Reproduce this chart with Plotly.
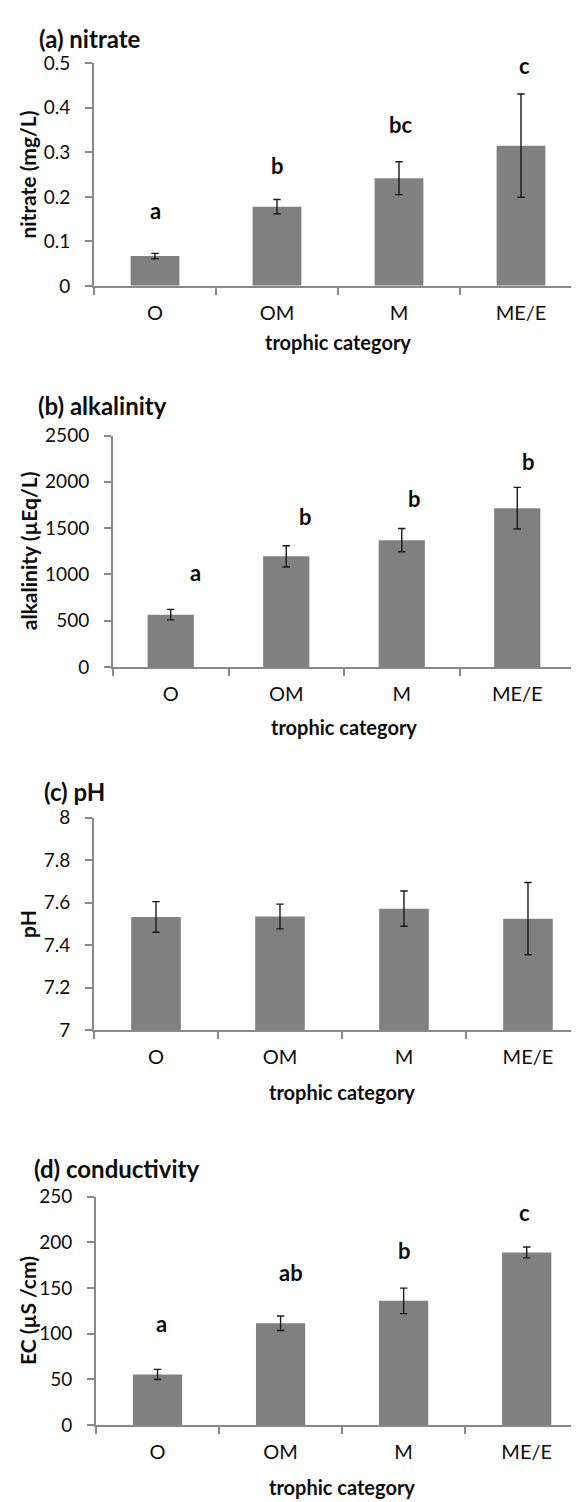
import plotly.graph_objects as go

W, H = 579, 1502

categories = ["O", "OM", "M", "ME/E"]

nitrate = [0.067, 0.178, 0.242, 0.315]
nitrate_err = [0.006, 0.016, 0.037, 0.116]
nitrate_letters = ["a", "b", "bc", "c"]

alkalinity = [565, 1195, 1370, 1715]
alkalinity_err = [57, 115, 125, 225]
alkalinity_letters = ["a", "b", "b", "b"]

ph = [7.533, 7.535, 7.572, 7.525]
ph_err = [0.072, 0.058, 0.083, 0.170]
ph_letters = ["", "", "", ""]

conductivity = [55.5, 111.5, 136.0, 189.0]
conductivity_err = [5.5, 8.0, 14.0, 6.0]
conductivity_letters = ["a", "ab", "b", "c"]

y_titles = ["nitrate (mg/L)", "alkalinity (µEq/L)", "pH", "EC (µS /cm)"]
panel_titles = ["(a) nitrate", "(b) alkalinity", "(c) pH", "(d) conductivity"]
x_title = "trophic category"

# layout: pixel box of each plot area, x range end, label placement
panels = [
    dict(vals=nitrate, err=nitrate_err, letters=nitrate_letters,
         letter_y=[0.170, 0.270, 0.362, 0.496], letter_dx=[0, 0, 1, 3],
         box=(86, 574, 44, 270), xmax=3.5, rng=[0, 0.5], dtick=0.1,
         title_xy=(29, 19), xtitle_y=327),
    dict(vals=alkalinity, err=alkalinity_err, letters=alkalinity_letters,
         letter_y=[1024, 1629, 1824, 2215], letter_dx=[25, 19, 13, 11],
         box=(105, 567, 422, 657), xmax=3.5, rng=[0, 2500], dtick=500,
         title_xy=(28, 392), xtitle_y=718),
    dict(vals=ph, err=ph_err, letters=ph_letters,
         letter_y=[0, 0, 0, 0], letter_dx=[0, 0, 0, 0],
         box=(86, 579, 810, 1026), xmax=3.476, rng=[7, 8], dtick=0.2,
         title_xy=(34, 784), xtitle_y=1089),
    dict(vals=conductivity, err=conductivity_err, letters=conductivity_letters,
         letter_y=[111, 166.7, 191, 233], letter_dx=[4, 10, 1, -2],
         box=(88, 579, 1195, 1427), xmax=3.49, rng=[0, 250], dtick=50,
         title_xy=(24, 1166), xtitle_y=1490),
]

FONT = "Lato"
AX = "#898989"
BAR = "#808080"
TXT = "#0d0d0d"

fig = go.Figure()
annotations = []

for i, p in enumerate(panels, start=1):
    xs = "" if i == 1 else str(i)
    x0, x1, y0, y1 = p["box"]
    fig.add_trace(go.Bar(
        x=categories, y=p["vals"], width=0.4,
        marker=dict(color=BAR, line=dict(width=0)),
        error_y=dict(type="data", array=p["err"], visible=True,
                     color="#1a1a1a", thickness=1.4, width=3.7),
        xaxis="x" + xs, yaxis="y" + xs, showlegend=False,
    ))
    fig.layout["xaxis" + xs] = dict(
        domain=[x0 / W, x1 / W], anchor="y" + xs, type="category",
        range=[-0.5, p["xmax"]],
        showline=True, linecolor=AX, linewidth=2,
        ticks="outside", tickson="boundaries", ticklen=7, tickwidth=2, tickcolor=AX,
        showgrid=False, zeroline=False,
        tickfont=dict(family=FONT, size=20, color=TXT),
        ticklabelstandoff=8,
        fixedrange=True,
    )
    fig.layout["yaxis" + xs] = dict(
        domain=[1 - y1 / H, 1 - y0 / H], anchor="x" + xs,
        range=p["rng"], dtick=p["dtick"], tick0=p["rng"][0],
        showline=True, linecolor=AX, linewidth=2,
        ticks="outside", ticklen=7, tickwidth=2, tickcolor=AX,
        showgrid=False, zeroline=False,
        tickfont=dict(family=FONT, size=19, color=TXT),
        ticklabelstandoff=11,
    )
    tx, ty = p["title_xy"]
    annotations.append(dict(
        text=panel_titles[i - 1], xref="paper", yref="paper",
        x=tx / W, y=1 - ty / H, xanchor="left", yanchor="middle",
        showarrow=False, font=dict(family=FONT, size=24, color=TXT, weight="bold"),
    ))
    annotations.append(dict(
        text=y_titles[i - 1], xref="paper", yref="paper",
        x=20 / W, y=1 - (y0 + y1) / 2 / H, xanchor="center", yanchor="middle",
        textangle=-90, showarrow=False,
        font=dict(family=FONT, size=21, color=TXT, weight="bold"),
    ))
    annotations.append(dict(
        text=x_title, xref="x" + xs + " domain", yref="paper",
        x=2.0 / (p["xmax"] + 0.5),
        y=1 - p["xtitle_y"] / H, xanchor="center", yanchor="middle",
        showarrow=False, font=dict(family=FONT, size=20, color=TXT, weight="bold"),
    ))
    for c, lt, ly, dx in zip(categories, p["letters"], p["letter_y"], p["letter_dx"]):
        if not lt:
            continue
        annotations.append(dict(
            text=lt, xref="x" + xs, yref="y" + xs, x=c, y=ly, xshift=dx,
            xanchor="center", yanchor="middle", showarrow=False,
            font=dict(family=FONT, size=22, color=TXT, weight="bold"),
        ))

fig.update_layout(
    width=W, height=H,
    margin=dict(l=0, r=0, t=0, b=0),
    paper_bgcolor="white", plot_bgcolor="white",
    annotations=annotations,
)

fig.write_html("out.html")
